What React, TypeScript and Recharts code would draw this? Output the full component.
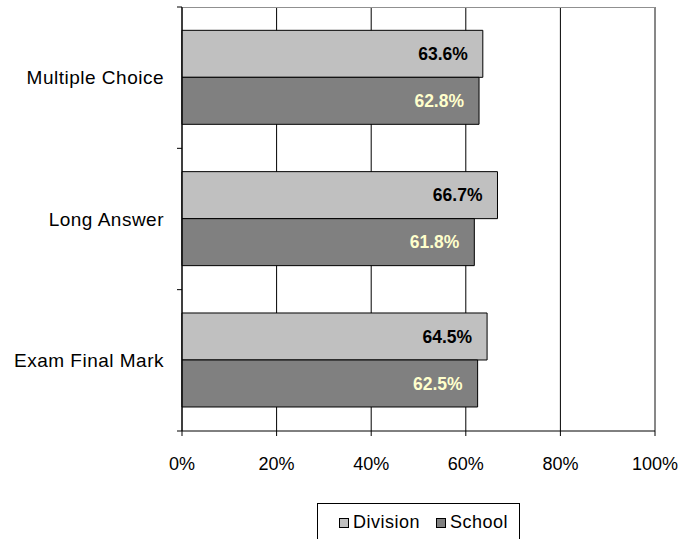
import React from 'react';
import {
  BarChart,
  Bar,
  XAxis,
  YAxis,
  CartesianGrid,
  LabelList,
  ReferenceLine
} from 'recharts';

const categories = ['Multiple Choice', 'Long Answer', 'Exam Final Mark'];
const divisionValues = [63.6, 66.7, 64.5];
const schoolValues = [62.8, 61.8, 62.5];
const xTicks = [0, 20, 40, 60, 80, 100];

const seriesInfo = [
  { key: 'division', name: 'Division', color: '#C0C0C0', labelColor: '#000000' },
  { key: 'school', name: 'School', color: '#808080', labelColor: '#FFFFCC' }
];

const data = categories.map((name, i) => ({
  name,
  division: divisionValues[i],
  school: schoolValues[i]
}));

const FONT = '"Liberation Sans", Arial, sans-serif';

const formatPct = (v: number): string => `${Number(v).toFixed(1)}%`;

// category label plus Excel-style tick marks between categories
const CategoryTick = (props: any) => {
  const { x, y, payload } = props;
  const half = payload && payload.offset ? payload.offset : 0;
  const isLast = payload.value === categories[categories.length - 1];
  return (
    <g>
      <line x1={x - 5} x2={x} y1={y - half} y2={y - half} stroke="#000" />
      {isLast && <line x1={x - 5} x2={x} y1={y + half} y2={y + half} stroke="#000" />}
      <text
        x={x - 18}
        y={y}
        dy="0.355em"
        textAnchor="end"
        fill="#000"
        fontSize={19}
        fontFamily={FONT}
        letterSpacing={0.5}
      >
        {payload.value}
      </text>
    </g>
  );
};

// top edge of the plot area, nudged half a pixel inside so the clip keeps it
const topFrame = (args: any) => {
  const top = args && args.offset && typeof args.offset.top === 'number' ? args.offset.top : 7;
  return [top + 0.5];
};

const App: React.FC = () => {
  return (
    <div style={{ position: 'absolute', left: 0, top: 0, width: 689, height: 539, background: '#fff', fontFamily: FONT }}>
      <BarChart
        width={689}
        height={539}
        data={data}
        layout="vertical"
        margin={{ top: 7, right: 34, left: 0, bottom: 0 }}
        barCategoryGap="16.5%"
        barGap={0}
      >
        <CartesianGrid horizontal={false} stroke="#000" strokeWidth={1} />
        <CartesianGrid
          vertical={false}
          stroke="#909090"
          strokeWidth={1}
          horizontalCoordinatesGenerator={topFrame}
          syncWithTicks={false}
        />
        <XAxis
          type="number"
          domain={[0, 100]}
          ticks={xTicks}
          tickFormatter={(v: number) => `${v}%`}
          height={108}
          tickSize={5}
          tickMargin={21}
          stroke="#000"
          tick={{ fill: '#000', fontSize: 18, fontFamily: FONT }}
          interval={0}
        />
        <YAxis
          type="category"
          dataKey="name"
          width={182}
          stroke="#000"
          tickLine={false}
          tickSize={0}
          tickMargin={0}
          tick={<CategoryTick />}
          interval={0}
        />
        <ReferenceLine x={100} stroke="#909090" />
        {seriesInfo.map((s) => (
          <Bar
            key={s.key}
            dataKey={s.key}
            name={s.name}
            fill={s.color}
            stroke="#000"
            strokeWidth={1}
            isAnimationActive={false}
          >
            <LabelList
              dataKey={s.key}
              position="insideRight"
              offset={15}
              formatter={formatPct}
              fill={s.labelColor}
              style={{ fontSize: 17.5, fontWeight: 'bold', fontFamily: FONT }}
            />
          </Bar>
        ))}
      </BarChart>
      <div
        style={{
          position: 'absolute',
          left: 317,
          top: 503,
          width: 203,
          height: 50,
          border: '1px solid #000',
          boxSizing: 'border-box',
          background: '#fff'
        }}
      >
        {seriesInfo.map((s, i) => (
          <div
            key={s.key}
            style={{
              position: 'absolute',
              left: i === 0 ? 21 : 118,
              top: 8,
              display: 'flex',
              alignItems: 'center',
              fontSize: 18,
              letterSpacing: 0.5,
              color: '#000',
              whiteSpace: 'nowrap'
            }}
          >
            <span
              style={{
                display: 'inline-block',
                width: 8,
                height: 8,
                background: s.color,
                border: '1px solid #000',
                marginRight: 4
              }}
            />
            {s.name}
          </div>
        ))}
      </div>
    </div>
  );
};

export default App;
